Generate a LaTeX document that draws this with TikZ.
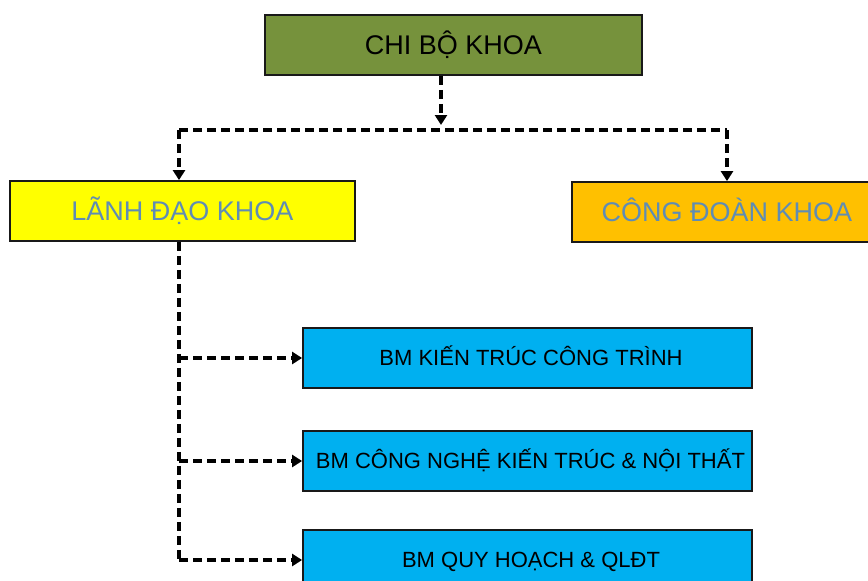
\documentclass[tikz,border=0pt]{standalone}
\usepackage{fontspec}
\setmainfont{Liberation Sans}
\usetikzlibrary{arrows.meta}
\definecolor{olivebox}{RGB}{118,146,60}
\definecolor{yellowbox}{RGB}{255,255,0}
\definecolor{orangebox}{RGB}{255,192,0}
\definecolor{bluebox}{RGB}{0,176,240}
\definecolor{greytext}{RGB}{95,140,180}
\definecolor{edge}{RGB}{25,25,25}
\tikzset{
  box/.style={draw=edge, line width=1.8pt, minimum height=60pt, inner sep=0pt,
    text height=19.3pt, text depth=0pt, font=\fontsize{27}{30}\selectfont},
  bmbox/.style={box, fill=bluebox, minimum width=449pt, text height=15.8pt,
    font=\fontsize{22}{26}\selectfont, text=black},
  dashline/.style={line width=4pt, dash pattern=on 9pt off 5pt, black},
  tip/.style={-{Triangle[length=10pt,width=12pt]}}
}
\begin{document}
\begin{tikzpicture}[x=1pt,y=-1pt]
\useasboundingbox (0,0) rectangle (868,581);
\clip (0,0) rectangle (868,581);
% boxes
\node[box, fill=olivebox, minimum width=377pt, text=black] (top) at (453.5,45) {CHI BỘ KHOA};
\node[box, fill=yellowbox, minimum width=345pt, text=greytext] (lead) at (182.5,211) {LÃNH ĐẠO KHOA};
\node[box, fill=orangebox, minimum width=310pt, text=greytext] (union) at (727,212) {CÔNG ĐOÀN KHOA};
\node[bmbox] (bm1) at (527.5,358) {\hspace*{7pt}BM KIẾN TRÚC CÔNG TRÌNH};
\node[bmbox] (bm2) at (527.5,461) {\hspace*{6pt}BM CÔNG NGHỆ KIẾN TRÚC \& NỘI THẤT};
\node[bmbox] (bm3) at (527.5,560) {\hspace*{7pt}BM QUY HOẠCH \& QLĐT};
% junction coordinates
\coordinate (tj) at (441,125);
\coordinate (hl) at (179,130);
\coordinate (hr) at (727,130);
% connectors
\draw[dashline, tip] (top.south -| tj) -- (tj);
\draw[dashline] (hl) -- (hr);
\draw[dashline, tip] (hl) -- (hl |- lead.north);
\draw[dashline, tip] (hr) -- (union.north);
\draw[dashline] (hl |- lead.south) -- (hl |- bm3.west);
\draw[dashline, tip] (hl |- bm1.west) -- (bm1.west);
\draw[dashline, tip] (hl |- bm2.west) -- (bm2.west);
\draw[dashline, tip] (hl |- bm3.west) -- (bm3.west);
\end{tikzpicture}
\end{document}
